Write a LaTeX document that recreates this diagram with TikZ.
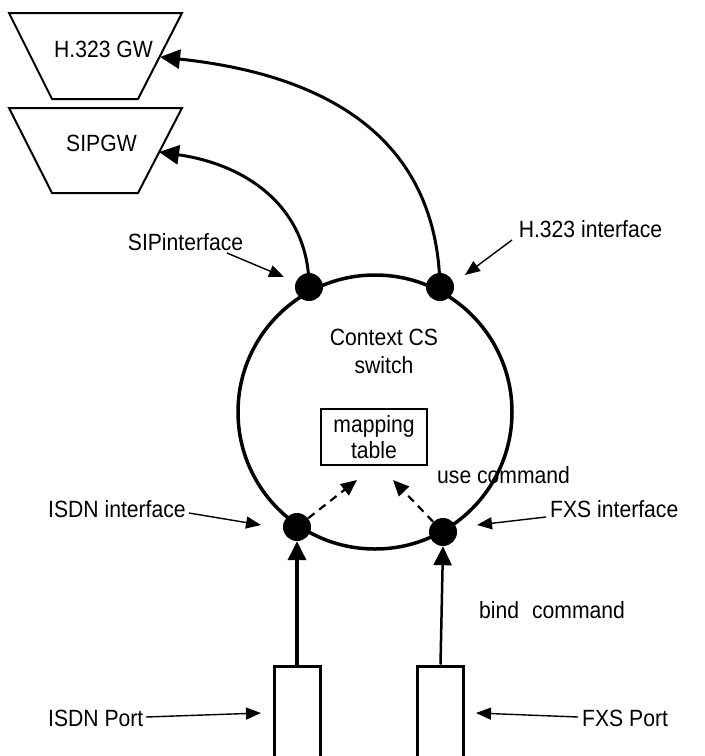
\documentclass[tikz,border=0pt]{standalone}
\usepackage{fontspec}
\setmainfont[FakeStretch=0.9]{Liberation Sans}
\usetikzlibrary{arrows.meta}
\begin{document}
\begin{tikzpicture}[x=1pt,y=-1pt,
  every node/.style={font=\fontsize{23.5}{28}\selectfont, inner sep=0pt, text=black},
  gwshape/.style={draw, line width=2pt, line join=miter},
  dot/.style={circle, fill=black, minimum size=28pt, inner sep=0pt},
  big/.style={line width=3pt, -{Triangle[length=20pt,width=19pt]}},
  ptr/.style={line width=1.4pt, -{Triangle[length=15pt,width=12pt]}},
  dsh/.style={line width=2.2pt, dash pattern=on 8pt off 6pt, -{Triangle[length=16pt,width=14pt]}},
  vert/.style={line width=3.5pt, -{Triangle[length=19pt,width=18pt]}},
  vertthin/.style={line width=2.5pt, -{Triangle[length=19pt,width=18pt]}},
  portbox/.style={draw, line width=3pt, minimum width=46pt, minimum height=110pt},
  lbl/.style={anchor=base west},
  ring/.style={draw, circle, line width=3.5pt, minimum size=274pt}
]
\useasboundingbox (0,0) rectangle (705,756);
\clip (0,0) rectangle (705,756);

% gateways
\draw[gwshape] (9,13) -- (182,13) -- (138,99) -- (52,99) -- cycle;
\draw[gwshape] (9,108) -- (182,108) -- (138,193) -- (52,193) -- cycle;
\node[anchor=base] (h323gw) at (103.5,57) {H.323 GW};
\node[anchor=base] (sipgw) at (101.5,151) {SIPGW};
\coordinate (h323edge) at (160,57);
\coordinate (sipedge) at (159,152);

% context switch
\node[ring] (cs) at (375,412) {};
\node[align=center] (cstext) at (384,351) {Context CS\\switch};
\node[draw, line width=1.5pt, minimum width=106pt, minimum height=56pt, align=center,
      font=\fontsize{23.5}{26}\selectfont] (map) at (374,437) {mapping\\table};

% interface dots
\coordinate (sipdpos) at (309,287);
\coordinate (h323dpos) at (440,287);
\coordinate (isdndpos) at (297,527);
\coordinate (fxsdpos) at (443,532);

% curves to gateways
\draw[big] (h323dpos) .. controls (437,140) and (330,75) .. (h323edge);
\draw[big] (sipdpos) .. controls (309,210) and (250,165) .. (sipedge);

\node[dot] (sipd) at (sipdpos) {};
\node[dot] (h323d) at (h323dpos) {};
\node[dot] (isdnd) at (isdndpos) {};
\node[dot] (fxsd) at (fxsdpos) {};

% dashed use arrows
\coordinate (mapl) at (357,480);
\coordinate (mapr) at (393,480);
\draw[dsh] (isdnd) -- (mapl);
\draw[dsh] (fxsd) -- (mapr);

% ports
\node[portbox] (isdnp) at (297,721) {};
\node[portbox] (fxsp) at (440.5,721) {};
\draw[vert] (isdnp.north) -- (isdnd.south);
\draw[vertthin] (fxsp.north) -- (fxsd.south);

% labels
\node[anchor=base] (sipl) at (185.5,250) {SIPinterface};
\node[anchor=base] (h323l) at (590.5,237) {H.323 interface};
\node[lbl] (usel) at (437,483) {use command};
\node[lbl] (isdnl) at (48,517) {ISDN interface};
\node[lbl] (fxsl) at (550,517) {FXS interface};
\node[lbl] (bindl) at (479,618) {bind\hspace{0.55em}command};
\node[lbl] (isdnpl) at (48,726) {ISDN Port};
\node[lbl] (fxspl) at (582,726) {FXS Port};

% pointer arrows
\coordinate (sipls) at (227,253);
\coordinate (siplt) at (284,277);
\coordinate (h323ls) at (512,240);
\coordinate (h323lt) at (465,275);
\coordinate (isdnls) at (189,513);
\coordinate (isdnlt) at (261,525);
\coordinate (fxsls) at (546,517);
\coordinate (fxslt) at (477,525);
\coordinate (isdnpls) at (146,717);
\coordinate (isdnplt) at (261,713);
\coordinate (fxspls) at (578,717);
\coordinate (fxsplt) at (476,713);
\draw[ptr] (sipls) -- (siplt);
\draw[ptr] (h323ls) -- (h323lt);
\draw[ptr] (isdnls) -- (isdnlt);
\draw[ptr] (fxsls) -- (fxslt);
\draw[ptr] (isdnpls) -- (isdnplt);
\draw[ptr] (fxspls) -- (fxsplt);
\end{tikzpicture}
\end{document}
